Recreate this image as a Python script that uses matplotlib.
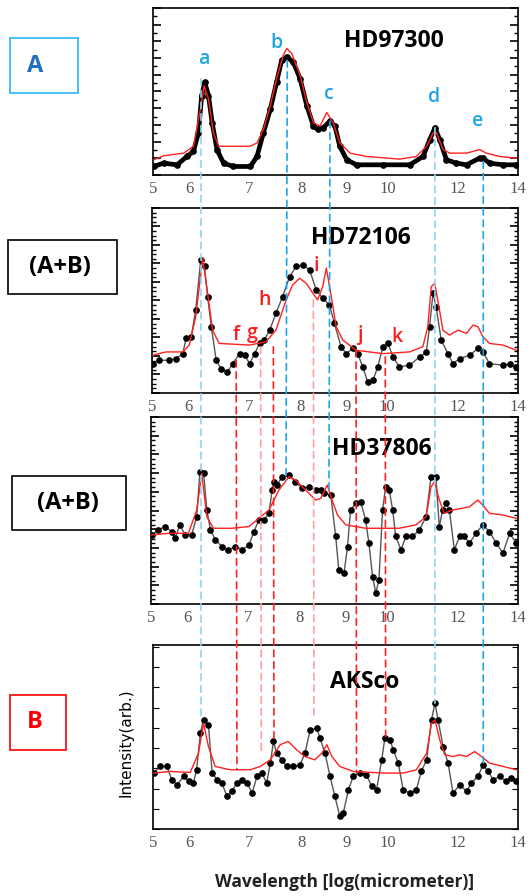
import matplotlib.pyplot as plt
from matplotlib.patches import ConnectionPatch, Rectangle
from matplotlib.ticker import MultipleLocator, FixedLocator

# Spectra: wavelength (micrometer) and intensity (arb.)
hd97300_x = [5.47, 5.61, 5.81, 5.96, 6.06, 6.14, 6.19, 6.24, 6.30, 6.36, 6.44, 6.55, 6.72, 7.02, 7.14,
             7.26, 7.39, 7.51, 7.61, 7.71, 7.84, 7.98, 8.12, 8.26, 8.36, 8.47, 8.62, 8.73, 8.84, 9.00,
             9.23, 9.89, 10.59, 10.96, 11.15, 11.30, 11.44, 11.64, 11.94, 12.26, 12.68, 12.79, 13.01,
             13.47, 13.94]
hd97300_y = [0.51, 0.71, 0.61, 1.11, 1.41, 2.53, 4.75, 5.56, 4.75, 3.13, 1.52, 0.71, 0.51, 0.51, 1.11,
             2.53, 3.94, 5.56, 6.87, 7.07, 6.77, 5.76, 4.14, 2.93, 2.73, 2.83, 3.23, 2.93, 1.72, 0.91,
             0.61, 0.61, 0.61, 1.11, 2.12, 2.83, 2.12, 0.91, 0.71, 0.61, 1.01, 1.01, 0.71, 0.61, 0.61]
hd97300_fit_x = [5.47, 5.61, 5.91, 6.06, 6.17, 6.23, 6.30, 6.38, 6.47, 6.72, 7.02, 7.14, 7.26, 7.39,
                 7.51, 7.64, 7.71, 7.81, 7.98, 8.12, 8.26, 8.40, 8.55, 8.69, 8.84, 9.08, 9.47, 10.32,
                 10.77, 11.06, 11.25, 11.34, 11.54, 11.74, 12.26, 12.68, 12.90, 13.35, 13.94]
hd97300_fit_y = [0.91, 1.15, 1.31, 1.72, 3.94, 5.35, 4.55, 2.53, 1.72, 1.72, 1.72, 1.92, 2.73, 4.14,
                 5.76, 7.17, 7.58, 7.27, 5.96, 4.34, 3.13, 2.93, 3.74, 3.13, 1.92, 1.31, 1.11, 0.95,
                 1.11, 1.72, 2.53, 2.53, 1.52, 1.31, 1.31, 1.52, 1.31, 1.11, 1.01]

hd72106_x = [5.47, 5.56, 5.71, 5.81, 5.91, 5.96, 6.04, 6.11, 6.19, 6.25, 6.30, 6.36, 6.44, 6.52, 6.63,
             6.72, 6.84, 6.93, 7.02, 7.11, 7.20, 7.29, 7.39, 7.51, 7.64, 7.78, 7.91, 8.05, 8.19, 8.33,
             8.47, 8.62, 8.73, 8.88, 9.00, 9.15, 9.27, 9.39, 9.51, 9.64, 9.76, 9.89, 10.02, 10.15,
             10.32, 10.59, 10.87, 11.06, 11.15, 11.25, 11.34, 11.49, 11.69, 11.84, 12.05, 12.36, 12.63,
             12.79, 13.01, 13.47, 13.70, 13.94]
hd72106_y = [1.59, 1.77, 1.77, 1.86, 2.13, 2.95, 3.04, 4.48, 7.20, 6.84, 5.21, 3.58, 1.77, 1.32, 1.14,
             1.59, 2.13, 2.04, 1.59, 2.13, 2.68, 2.86, 3.40, 4.30, 5.21, 6.29, 6.84, 6.93, 6.65, 5.57,
             5.12, 4.76, 3.76, 2.50, 2.13, 2.41, 2.13, 1.41, 0.60, 0.69, 1.41, 2.50, 2.68, 1.95, 1.41,
             1.50, 1.95, 2.22, 3.58, 5.39, 4.67, 2.86, 2.13, 1.59, 1.86, 2.04, 2.41, 2.22, 1.59, 1.50,
             1.59, 1.41]
hd72106_fit_x = [5.47, 5.66, 5.91, 6.01, 6.11, 6.22, 6.30, 6.38, 6.49, 7.02, 7.32, 7.51, 7.71, 7.84,
                 7.98, 8.12, 8.26, 8.36, 8.47, 8.55, 8.66, 8.77, 8.92, 9.23, 9.89, 10.59, 10.96, 11.10,
                 11.20, 11.30, 11.44, 11.54, 11.74, 12.00, 12.26, 12.47, 12.63, 12.79, 13.01, 13.47, 13.94]
hd72106_fit_y = [2.04, 2.22, 2.22, 2.59, 4.12, 7.29, 5.39, 3.40, 2.68, 2.59, 2.77, 3.40, 5.03, 5.84,
                 6.20, 5.93, 5.39, 5.03, 5.75, 6.75, 5.21, 3.58, 2.86, 2.31, 2.13, 2.22, 2.50, 3.58,
                 5.75, 5.93, 4.48, 3.40, 3.13, 3.40, 3.22, 3.67, 3.58, 3.04, 2.68, 2.59, 2.31]

hd37806_x = [5.47, 5.56, 5.66, 5.76, 5.81, 5.88, 5.96, 6.06, 6.14, 6.19, 6.25, 6.30, 6.36, 6.44, 6.55,
             6.66, 6.78, 6.90, 7.02, 7.11, 7.20, 7.29, 7.39, 7.45, 7.48, 7.55, 7.64, 7.78, 7.91, 8.05,
             8.19, 8.33, 8.44, 8.51, 8.66, 8.77, 8.84, 8.96, 9.04, 9.11, 9.23, 9.35, 9.47, 9.55, 9.64,
             9.72, 9.80, 9.89, 9.97, 10.06, 10.15, 10.23, 10.37, 10.50, 10.68, 10.87, 11.06, 11.20,
             11.34, 11.44, 11.54, 11.64, 11.74, 11.89, 12.05, 12.20, 12.36, 12.57, 12.79, 13.01, 13.24,
             13.47, 13.70, 13.94]
hd37806_y = [3.69, 3.96, 4.14, 3.87, 3.52, 4.23, 3.69, 3.69, 4.67, 7.07, 6.98, 5.03, 3.96, 3.43, 3.07,
             2.90, 3.07, 2.90, 3.16, 3.87, 4.49, 4.49, 4.85, 6.09, 6.54, 6.36, 6.80, 6.89, 6.54, 6.18,
             6.27, 6.09, 6.09, 5.91, 5.83, 3.61, 1.83, 1.65, 3.07, 5.03, 5.38, 5.47, 4.49, 3.25, 1.47,
             0.59, 1.30, 5.03, 6.27, 6.09, 5.03, 3.61, 2.90, 3.61, 3.61, 3.96, 4.67, 6.80, 6.80, 4.14,
             5.03, 5.38, 5.03, 2.90, 3.61, 3.61, 3.25, 3.78, 4.23, 3.87, 3.25, 2.72, 3.78, 3.25]
hd37806_fit_x = [5.47, 5.71, 6.01, 6.14, 6.22, 6.30, 6.41, 6.72, 7.02, 7.20, 7.39, 7.58, 7.78, 7.91,
                 8.12, 8.33, 8.44, 8.58, 8.69, 8.81, 9.00, 9.47, 10.32, 10.77, 11.06, 11.20, 11.30,
                 11.44, 11.59, 11.84, 12.15, 12.36, 12.63, 12.79, 13.01, 13.47, 13.94]
hd37806_fit_y = [3.69, 3.78, 3.78, 5.03, 6.98, 4.67, 4.05, 4.05, 4.14, 4.58, 5.03, 6.09, 6.80, 6.63,
                 6.09, 5.56, 5.65, 6.36, 5.56, 4.76, 4.23, 4.05, 4.05, 4.23, 4.67, 6.27, 6.54, 5.56,
                 4.85, 5.03, 5.12, 5.20, 5.56, 5.29, 4.85, 4.76, 4.58]

aksco_x = [5.47, 5.56, 5.66, 5.73, 5.81, 5.91, 5.99, 6.06, 6.11, 6.17, 6.22, 6.30, 6.36, 6.44, 6.52,
           6.61, 6.69, 6.78, 6.87, 6.96, 7.05, 7.14, 7.23, 7.32, 7.39, 7.45, 7.51, 7.61, 7.71, 7.84,
           7.98, 8.08, 8.19, 8.33, 8.40, 8.51, 8.62, 8.73, 8.84, 8.92, 9.04, 9.15, 9.31, 9.47, 9.60,
           9.72, 9.85, 9.93, 10.06, 10.15, 10.28, 10.41, 10.59, 10.77, 10.91, 11.06, 11.20, 11.30,
           11.39, 11.54, 11.69, 11.84, 12.05, 12.26, 12.41, 12.63, 12.79, 12.96, 13.13, 13.35, 13.58,
           13.76, 13.94]
aksco_y = [3.04, 3.40, 3.40, 2.68, 2.41, 2.86, 2.59, 2.50, 3.22, 5.21, 5.93, 5.66, 3.04, 2.68, 2.50,
           1.77, 2.04, 2.50, 2.68, 2.50, 1.95, 2.86, 3.04, 2.50, 3.58, 4.76, 4.12, 3.76, 3.40, 3.40,
           3.49, 4.12, 5.39, 5.48, 4.94, 4.12, 2.86, 1.77, 0.69, 0.87, 2.13, 2.86, 3.04, 2.95, 2.31,
           2.13, 3.76, 4.94, 4.85, 4.30, 3.58, 2.13, 1.95, 2.13, 3.13, 3.76, 5.93, 6.84, 5.93, 4.48,
           3.58, 1.95, 2.41, 2.04, 2.50, 2.86, 3.49, 3.13, 2.68, 2.86, 2.59, 2.77, 2.59]
aksco_fit_x = [5.47, 5.71, 6.01, 6.14, 6.22, 6.30, 6.41, 6.66, 7.02, 7.20, 7.39, 7.58, 7.74, 7.91,
               8.08, 8.29, 8.44, 8.55, 8.66, 8.84, 9.15, 9.89, 10.41, 10.77, 11.06, 11.20, 11.30,
               11.44, 11.59, 11.84, 12.05, 12.26, 12.52, 12.74, 13.01, 13.47, 13.94]
aksco_fit_y = [3.04, 3.13, 3.07, 4.12, 5.75, 4.48, 3.40, 3.22, 3.22, 3.40, 3.76, 4.58, 4.76, 4.30,
               3.94, 3.76, 4.12, 4.58, 3.94, 3.40, 3.13, 3.04, 3.04, 3.22, 4.12, 5.75, 5.93, 4.85,
               4.03, 3.94, 4.03, 3.94, 4.21, 3.94, 3.58, 3.40, 3.22]

star_names = ['HD97300', 'HD72106', 'HD37806', 'AKSco']
group_labels = ['A', '(A+B)', '(A+B)', 'B']

# feature markers: letter, wavelength, start (y in first panel), end (y in last panel)
blue_letters = ['a', 'b', 'c', 'd', 'e']
blue_wave = [6.18, 7.72, 8.62, 11.30, 12.80]
blue_start = [5.76, 6.87, 3.23, 2.83, 0.80]
blue_end = [5.93, 6.60, 6.10, 6.84, 3.58]
blue_label_xy = [(6.23, 6.97), (7.50, 7.88), (8.60, 4.85), (11.28, 4.65), (12.63, 3.23)]

red_letters = ['f', 'g', 'h', 'i', 'j', 'k']
red_wave = [6.78, 7.22, 7.46, 8.27, 9.23, 9.95]
red_start = [1.77, 2.50, 2.50, 5.03, 2.31, 1.95]
red_end = [3.22, 4.12, 4.67, 5.93, 3.04, 5.03]
red_label_xy = [(6.78, 3.13), (7.06, 3.22), (7.29, 5.03), (8.34, 6.84), (9.31, 3.13), (10.25, 3.04)]

xtick_vals = [5.46, 6, 7, 8, 9, 10, 12, 14]
xtick_text = ['5', '6', '7', '8', '9', '10', '12', '14']

W, H = 530, 896
fig = plt.figure(figsize=(W / 100, H / 100), dpi=100)


def px_box(left, top, right, bottom):
    return [left / W, 1 - bottom / H, (right - left) / W, (bottom - top) / H]


ax1 = fig.add_axes(px_box(153, 8, 518, 175))
ax2 = fig.add_axes(px_box(152, 208, 518, 393))
ax3 = fig.add_axes(px_box(151, 417, 518, 604))
ax4 = fig.add_axes(px_box(153, 645, 518, 829))
axes = [ax1, ax2, ax3, ax4]

series = [(hd97300_x, hd97300_y, hd97300_fit_x, hd97300_fit_y),
          (hd72106_x, hd72106_y, hd72106_fit_x, hd72106_fit_y),
          (hd37806_x, hd37806_y, hd37806_fit_x, hd37806_fit_y),
          (aksco_x, aksco_y, aksco_fit_x, aksco_fit_y)]
title_pos = [(0.66, 0.80), (0.57, 0.84), (0.63, 0.83), (0.58, 0.80)]

for i, ax in enumerate(axes):
    ox, oy, fx, fy = series[i]
    if i == 0:
        ax.plot(ox, oy, color='black', lw=3.4, marker='o', ms=3.8, zorder=2)
    else:
        ax.plot(ox, oy, color='#555555', lw=1.0, marker='o', ms=3.8,
                mfc='black', mec='black', zorder=2)
    ax.plot(fx, fy, color='#ff2020', lw=1.0, zorder=3)
    ax.set_xscale('log')
    ax.set_xlim(5.46, 14)
    ax.set_ylim(0, 10)
    ax.xaxis.set_major_locator(FixedLocator(xtick_vals))
    ax.xaxis.set_minor_locator(FixedLocator([]))
    ax.set_xticklabels(xtick_text)
    ax.tick_params(axis='x', length=0, pad=4, labelsize=12, labelcolor='#555555')
    for lab in ax.get_xticklabels():
        lab.set_family('Liberation Serif')
    ax.set_yticklabels([])
    if i == 3:
        ax.yaxis.set_major_locator(MultipleLocator(1.1))
        ax.tick_params(axis='y', which='major', direction='in', length=4, width=0.8,
                       left=True, right=True)
    else:
        ax.yaxis.set_major_locator(MultipleLocator(1))
        ax.yaxis.set_minor_locator(MultipleLocator(0.5 if i == 0 else 0.25))
        ax.tick_params(axis='y', which='major', direction='in', length=6, width=1.2,
                       left=True, right=True)
        ax.tick_params(axis='y', which='minor', direction='in', length=3, width=1.0,
                       left=True, right=True)
    for sp in ax.spines.values():
        sp.set_linewidth(1.2)
    ax.text(title_pos[i][0], title_pos[i][1], star_names[i], transform=ax.transAxes,
            fontsize=16.5, fontweight='bold', family='Open Sans', ha='center', va='center')

# feature letters
for (lx, ly), s in zip(blue_label_xy, blue_letters):
    ax1.text(lx, ly, s, color='#1fa5e6', fontsize=14, fontweight='semibold',
             family='Open Sans', ha='center', va='center')
for (lx, ly), s in zip(red_label_xy, red_letters):
    ax2.text(lx, ly, s, color='#ff1a1a', fontsize=14, fontweight='semibold',
             family='Open Sans', ha='center', va='center')

# dashed guide lines through the panels
blue_end_ax = [ax4, ax3, ax3, ax4, ax4]
blue_cols = ['#8fd2f5', '#1fa5e6', '#1fa5e6', '#8fd2f5', '#1fa5e6']
for k in range(len(blue_wave)):
    con = ConnectionPatch(xyA=(blue_wave[k], blue_start[k]), coordsA=ax1.transData,
                          xyB=(blue_wave[k], blue_end[k]), coordsB=blue_end_ax[k].transData,
                          color=blue_cols[k], lw=1.2, ls=(0, (4, 3)),
                          shrinkA=0, shrinkB=0, zorder=5)
    fig.add_artist(con)

red_cols = ['#ff2020', '#ffa0a0', '#ff2020', '#ffa0a0', '#ff2020', '#ff2020']
for k in range(len(red_wave)):
    con = ConnectionPatch(xyA=(red_wave[k], red_start[k]), coordsA=ax2.transData,
                          xyB=(red_wave[k], red_end[k]), coordsB=ax4.transData,
                          color=red_cols[k], lw=1.2, ls=(0, (4, 3)),
                          shrinkA=0, shrinkB=0, zorder=5)
    fig.add_artist(con)

# group boxes on the left
box_px = [(10, 38, 78, 93), (8, 240, 117, 294), (12, 476, 126, 530), (10, 695, 66, 750)]
box_edge = ['#29b6f6', 'black', 'black', 'red']
box_text_col = ['#1f6fc0', 'black', 'black', 'red']
box_text_x = [35, 60, 68, 35]
for k in range(4):
    l, t, r, b = box_px[k]
    fig.add_artist(Rectangle((l / W, 1 - b / H), (r - l) / W, (b - t) / H,
                             transform=fig.transFigure, fill=False,
                             edgecolor=box_edge[k], lw=1.2))
    fig.text(box_text_x[k] / W, 1 - (t + b) / 2 / H, group_labels[k], color=box_text_col[k],
             fontsize=17, fontweight='bold', family='Open Sans', ha='center', va='center')

fig.text(126 / W, 1 - 743 / H, 'Intensity(arb.)', rotation=90, ha='center', va='center',
         fontsize=11, family=['Liberation Sans Narrow', 'DejaVu Sans'])
fig.text(345 / W, 1 - 882 / H, 'Wavelength [log(micrometer)]', ha='center', va='center',
         fontsize=12.5, fontweight='bold', family='Open Sans', color='#222222')

fig.savefig('out.png', dpi=100)
